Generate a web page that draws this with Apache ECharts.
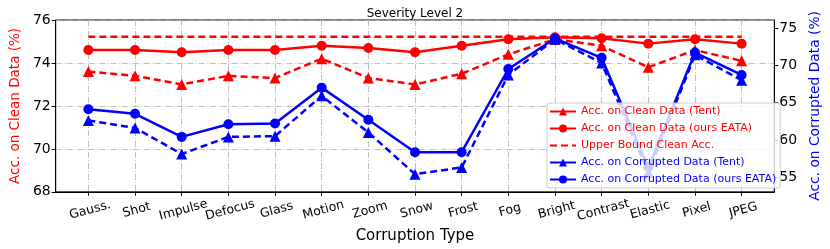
<!DOCTYPE html>
<html>
<head>
<meta charset="utf-8">
<script src="https://cdn.jsdelivr.net/npm/echarts@6/dist/echarts.min.js"></script>
<style>html,body{margin:0;padding:0;background:#fff}#c{width:830px;height:249px}</style>
</head>
<body>
<div id="c"></div>
<script>
const categories = ['Gauss.', 'Shot', 'Impulse', 'Defocus', 'Glass', 'Motion', 'Zoom', 'Snow', 'Frost', 'Fog', 'Bright', 'Contrast', 'Elastic', 'Pixel', 'JPEG'];
const cleanTent = [73.6, 73.4, 73.0, 73.4, 73.3, 74.2, 73.3, 73.0, 73.5, 74.4, 75.1, 74.8, 73.8, 74.6, 74.1];
const cleanEATA = [74.6, 74.6, 74.5, 74.6, 74.6, 74.8, 74.7, 74.5, 74.8, 75.1, 75.2, 75.15, 74.9, 75.1, 74.9];
const upperBound = [75.22, 75.22, 75.22, 75.22, 75.22, 75.22, 75.22, 75.22, 75.22, 75.22, 75.22, 75.22, 75.22, 75.22, 75.22];
const corrTent = [62.6, 61.6, 58.1, 60.4, 60.5, 65.9, 61.0, 55.4, 56.3, 68.7, 73.5, 70.3, 55.6, 71.4, 68.0];
const corrEATA = [64.1, 63.5, 60.4, 62.1, 62.2, 67.0, 62.7, 58.35, 58.35, 69.5, 73.6, 71.0, 56.3, 71.7, 68.7];
const leftTicks = [68, 70, 72, 74, 76];
const rightTicks = [55, 60, 65, 70, 75];

const FONT = 'DejaVu Sans';
const RED = '#ff0000', BLUE = '#0000ff';
const idx = categories.map((_, i) => i);
const pairs = arr => arr.map((v, i) => [i, v]);
const dash = [7, 4];

const chart = echarts.init(document.getElementById('c'), null, {renderer: 'canvas'});
chart.setOption({
  animation: false,
  textStyle: {fontFamily: FONT},
  title: {text: 'Severity Level 2', left: 'center', top: 3,
    textStyle: {fontFamily: FONT, fontSize: 12, fontWeight: 'normal', color: '#000'}},
  grid: {left: 47, right: 48, top: 20, bottom: 57, show: true, borderColor: '#000', borderWidth: 1, backgroundColor: 'transparent'},
  legend: {
    orient: 'vertical', left: 547, top: 103, itemWidth: 26, itemHeight: 10, itemGap: 6,
    backgroundColor: 'rgba(255,255,255,0.8)', borderColor: '#cccccc', borderWidth: 1, borderRadius: 3,
    padding: [3, 4, 3, 2],
    textStyle: {fontFamily: FONT, fontSize: 11},
    data: [
      {name: 'Acc. on Clean Data (Tent)', textStyle: {color: RED}, lineStyle: {type: 'solid'}},
      {name: 'Acc. on Clean Data (ours EATA)', textStyle: {color: RED}},
      {name: 'Upper Bound Clean Acc.', textStyle: {color: RED}, itemStyle: {opacity: 0}},
      {name: 'Acc. on Corrupted Data (Tent)', textStyle: {color: BLUE}, lineStyle: {type: 'solid'}},
      {name: 'Acc. on Corrupted Data (ours EATA)', textStyle: {color: BLUE}}
    ]
  },
  xAxis: {
    type: 'value', min: -0.7, max: 14.7,
    name: 'Corruption Type', nameLocation: 'middle', nameGap: 31,
    nameTextStyle: {fontFamily: FONT, fontSize: 15, color: '#000'},
    axisLine: {show: true, onZero: false, lineStyle: {color: '#000', width: 1}},
    axisTick: {show: true, customValues: idx, length: 4, lineStyle: {color: '#000'}},
    axisLabel: {customValues: idx, formatter: v => categories[Math.round(v)] || '',
      rotate: 15, align: 'center', verticalAlign: 'top', margin: 12,
      fontFamily: FONT, fontSize: 12.5, color: '#000'},
    splitLine: {show: true, lineStyle: {color: '#b0b0b0', width: 0.8, type: [6, 2, 1, 2]}}
  },
  yAxis: [
    {
      type: 'value', min: 68, max: 76, interval: 2, position: 'left',
      name: 'Acc. on Clean Data (%)', nameLocation: 'middle', nameGap: 27,
      nameTextStyle: {fontFamily: FONT, fontSize: 13.5, color: RED},
      axisLine: {show: true, onZero: false, lineStyle: {color: '#000'}},
      axisTick: {show: true, length: 4, lineStyle: {color: '#000'}},
      axisLabel: {fontFamily: FONT, fontSize: 14, color: '#000', margin: 5, formatter: v => String(v)},
      splitLine: {show: true, lineStyle: {color: '#b0b0b0', width: 0.8, type: [6, 2, 1, 2]}}
    },
    {
      type: 'value', min: 53.03, max: 76.07, position: 'right',
      name: 'Acc. on Corrupted Data (%)', nameLocation: 'middle', nameGap: 27,
      nameTextStyle: {fontFamily: FONT, fontSize: 13.8, color: BLUE},
      axisLine: {show: true, onZero: false, lineStyle: {color: '#000'}},
      axisTick: {show: true, length: 4, customValues: rightTicks, lineStyle: {color: '#000'}},
      axisLabel: {customValues: rightTicks, fontFamily: FONT, fontSize: 14, color: '#000', margin: 5},
      splitLine: {show: false}
    }
  ],
  series: [
    {name: 'Acc. on Clean Data (Tent)', type: 'line', yAxisIndex: 0, data: pairs(cleanTent),
      symbol: 'triangle', symbolSize: 11, color: RED,
      lineStyle: {width: 2.5, type: dash, color: RED}, itemStyle: {color: RED}, z: 2},
    {name: 'Acc. on Clean Data (ours EATA)', type: 'line', yAxisIndex: 0, data: pairs(cleanEATA),
      symbol: 'circle', symbolSize: 10, color: RED,
      lineStyle: {width: 2.5, color: RED}, itemStyle: {color: RED}, z: 2},
    {name: 'Upper Bound Clean Acc.', type: 'line', yAxisIndex: 0, data: pairs(upperBound),
      symbol: 'none', color: RED,
      lineStyle: {width: 2.5, type: dash, color: RED}, z: 2},
    {name: 'Acc. on Corrupted Data (Tent)', type: 'line', yAxisIndex: 1, data: pairs(corrTent),
      symbol: 'triangle', symbolSize: 11, color: BLUE,
      lineStyle: {width: 2.5, type: dash, color: BLUE}, itemStyle: {color: BLUE}, z: 3},
    {name: 'Acc. on Corrupted Data (ours EATA)', type: 'line', yAxisIndex: 1, data: pairs(corrEATA),
      symbol: 'circle', symbolSize: 10, color: BLUE,
      lineStyle: {width: 2.5, color: BLUE}, itemStyle: {color: BLUE}, z: 3}
  ]
});
</script>
</body>
</html>
